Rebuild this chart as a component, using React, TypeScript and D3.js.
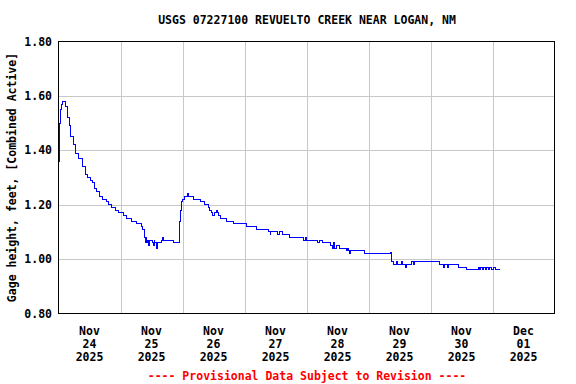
import { useEffect, useRef } from "react";
import * as d3 from "d3";

// hours since Nov 24 2025 00:00, gage height in feet
const stageHours = [
  0.2, 0.3, 0.6, 1.0, 1.5, 2.2, 2.8, 3.3, 4.1, 4.7, 5.7, 6.7, 7.9, 9.2, 10.6, 11.4,
  12.2, 13.0, 14.1, 14.9, 15.8, 17.2, 18.7, 19.5, 20.6, 21.9, 23.1, 25.3, 26.4,
  28.1, 30.0, 32.2, 32.5, 33.2, 33.5, 33.9, 34.2, 34.6, 35.0, 35.4, 36.2, 36.8,
  37.0, 37.3, 37.9, 38.1, 38.3, 39.7, 40.2, 40.5, 44.5, 47.0, 47.4, 47.7, 48.0,
  48.6, 50.1, 50.4, 52.2, 54.8, 56.7, 58.0, 58.6, 59.2, 59.7, 60.2, 61.3, 61.6,
  62.0, 62.6, 64.9, 67.9, 72.6, 76.7, 81.1, 81.9, 82.2, 84.6, 85.7, 86.9, 89.6,
  94.7, 95.5, 96.1, 100.4, 101.2, 102.0, 105.1, 106.2, 106.6, 107.0, 107.8,
  108.9, 111.3, 112.0, 112.4, 112.8, 113.2, 118.6, 128.5, 129.0, 129.5, 131.0,
  131.3, 132.9, 133.3, 134.5, 134.9, 136.7, 137.3, 137.9, 147.3, 149.2, 149.6,
  150.4, 150.8, 154.7, 158.1, 162.7, 163.1, 163.5, 164.3, 164.7, 165.4, 165.8,
  166.6, 167.0, 167.8, 168.2, 169.0, 170.9,
];
const stageFeet = [
  1.36, 1.5, 1.55, 1.57, 1.58, 1.58, 1.56, 1.52, 1.49, 1.45, 1.42, 1.39, 1.37, 1.34,
  1.31, 1.3, 1.29, 1.28, 1.26, 1.25, 1.23, 1.22, 1.21, 1.2, 1.19, 1.18, 1.17, 1.16,
  1.15, 1.14, 1.13, 1.12, 1.11, 1.08, 1.06, 1.08, 1.06, 1.07, 1.05, 1.07, 1.06,
  1.05, 1.07, 1.06, 1.05, 1.04, 1.06, 1.07, 1.08, 1.07, 1.06, 1.14, 1.18, 1.21,
  1.22, 1.23, 1.24, 1.23, 1.22, 1.21, 1.2, 1.19, 1.18, 1.17, 1.16, 1.17, 1.18, 1.17,
  1.16, 1.15, 1.14, 1.13, 1.12, 1.11, 1.1, 1.09, 1.1, 1.09, 1.1, 1.09, 1.08, 1.07,
  1.08, 1.07, 1.06, 1.07, 1.06, 1.05, 1.04, 1.06, 1.04, 1.05, 1.04, 1.03, 1.04,
  1.03, 1.02, 1.03, 1.02, 1.025, 0.99, 0.98, 0.99, 0.98, 0.99, 0.98, 0.97, 0.98,
  0.99, 0.98, 0.99, 0.98, 0.97, 0.98, 0.97, 0.98, 0.97, 0.96, 0.97, 0.96, 0.97,
  0.96, 0.97, 0.96, 0.97, 0.96, 0.97, 0.96, 0.97, 0.96, 0.96,
];

const dayMonths = ["Nov", "Nov", "Nov", "Nov", "Nov", "Nov", "Nov", "Dec"];
const dayNumbers = ["24", "25", "26", "27", "28", "29", "30", "01"];
const yTicks = [0.8, 1.0, 1.2, 1.4, 1.6, 1.8];

const GageChart = () => {
  const svgRef = useRef<SVGSVGElement>(null);

  useEffect(() => {
    if (!svgRef.current) return;
    const width = 576;
    const height = 384;
    const font = "'DejaVu Sans Mono', monospace";
    const start = new Date(2025, 10, 24);
    const end = new Date(2025, 11, 2);

    const svg = d3.select(svgRef.current);
    svg.selectAll("*").remove();
    svg.attr("width", width).attr("height", height);

    svg.append("rect").attr("width", width).attr("height", height).attr("fill", "white");

    const x = d3.scaleTime().domain([start, end]).range([58.5, 554.5]);
    const y = d3.scaleLinear().domain([0.8, 1.8]).range([313.5, 41.5]);

    const days = d3.timeDay.range(start, end);

    // 网格线
    svg
      .append("g")
      .selectAll("line")
      .data(days.slice(1))
      .join("line")
      .attr("x1", (d) => Math.round(x(d)) + 0.5)
      .attr("x2", (d) => Math.round(x(d)) + 0.5)
      .attr("y1", y(1.8))
      .attr("y2", y(0.8))
      .attr("stroke", "#c8c8c8");

    svg
      .append("g")
      .selectAll("line")
      .data(yTicks.slice(1, -1))
      .join("line")
      .attr("x1", x(start))
      .attr("x2", x(end))
      .attr("y1", (d) => Math.round(y(d)) + 0.5)
      .attr("y2", (d) => Math.round(y(d)) + 0.5)
      .attr("stroke", "#c8c8c8");

    // 数据线
    const points = stageHours.map((h, i) => ({ h, v: stageFeet[i] }));
    const line = d3
      .line<{ h: number; v: number }>()
      .x((d) => x(new Date(start.getTime() + d.h * 3600 * 1000)))
      .y((d) => y(d.v))
      .curve(d3.curveStepAfter);

    svg
      .append("path")
      .datum(points)
      .attr("d", line)
      .attr("fill", "none")
      .attr("stroke", "#0000ff")
      .attr("stroke-width", 1)
      .attr("shape-rendering", "crispEdges");

    // 边框
    svg
      .append("rect")
      .attr("x", x(start))
      .attr("y", y(1.8))
      .attr("width", x(end) - x(start))
      .attr("height", y(0.8) - y(1.8))
      .attr("fill", "none")
      .attr("stroke", "black");

    // Y 轴标签
    svg
      .append("g")
      .selectAll("text")
      .data(yTicks)
      .join("text")
      .attr("x", 52)
      .attr("y", (d) => y(d) + 4)
      .attr("text-anchor", "end")
      .style("font", `bold 11.5px ${font}`)
      .text((d) => d.toFixed(2));

    // X 轴标签
    const xl = svg
      .append("g")
      .selectAll("text")
      .data(days)
      .join("text")
      .attr("text-anchor", "middle")
      .style("font", `bold 11.5px ${font}`);
    xl.append("tspan")
      .attr("x", (d) => x(d3.timeHour.offset(d, 12)))
      .attr("y", 335)
      .text((d, i) => dayMonths[i]);
    xl.append("tspan")
      .attr("x", (d) => x(d3.timeHour.offset(d, 12)))
      .attr("y", 348)
      .text((d, i) => dayNumbers[i]);
    xl.append("tspan")
      .attr("x", (d) => x(d3.timeHour.offset(d, 12)))
      .attr("y", 361)
      .text(() => "2025");

    // 标题
    svg
      .append("text")
      .attr("x", 307)
      .attr("y", 24)
      .attr("text-anchor", "middle")
      .style("font", `bold 11.5px ${font}`)
      .text("USGS 07227100 REVUELTO CREEK NEAR LOGAN, NM");

    svg
      .append("text")
      .attr("transform", `translate(16,${(y(0.8) + y(1.8)) / 2}) rotate(-90)`)
      .attr("text-anchor", "middle")
      .style("font", `bold 11.5px ${font}`)
      .text("Gage height, feet, [Combined Active]");

    svg
      .append("text")
      .attr("x", 307)
      .attr("y", 380)
      .attr("text-anchor", "middle")
      .attr("fill", "#ff0000")
      .style("font", `bold 11.5px ${font}`)
      .text("---- Provisional Data Subject to Revision ----");
  }, []);

  return (
    <div style={{ position: "absolute", left: 0, top: 0 }}>
      <svg ref={svgRef} style={{ display: "block" }}></svg>
    </div>
  );
};

export default GageChart;
